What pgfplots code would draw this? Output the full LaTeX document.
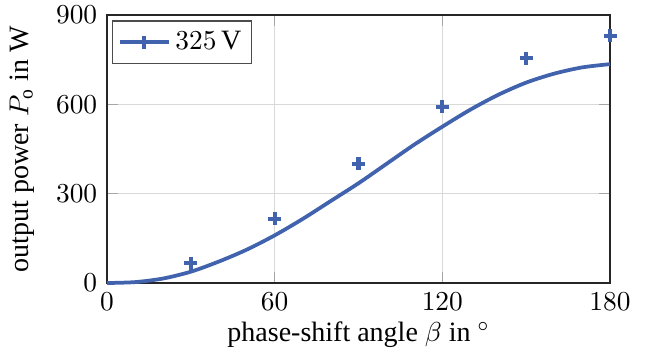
\documentclass[border=0pt]{standalone}
\usepackage{pgfplots}
\pgfplotsset{compat=1.18}
\usepackage{fontspec}
\setmainfont{Liberation Serif}
\definecolor{lineblue}{RGB}{65,98,172}
\begin{document}
\fontsize{11.2}{13.5}\selectfont
\begin{tikzpicture}
\begin{axis}[
  scale only axis,
  width=201.2pt, height=107.2pt,
  xmin=0, xmax=180, ymin=0, ymax=900,
  xtick={0,60,120,180}, ytick={0,300,600,900},
  grid=major,
  major grid style={gray!30, line width=0.6pt},
  tick style={gray!70, line width=0.6pt},
  axis line style={black!85, line width=0.6pt},
  tick label style={font=\fontsize{11.2}{13.5}\selectfont},
  label style={font=\fontsize{11.2}{13.5}\selectfont},
  xlabel={phase-shift angle $\beta$ in $^\circ$},
  ylabel={output power $P_\mathrm{o}$ in W},
  xlabel style={yshift=3pt},
  ylabel style={yshift=1pt},
  legend style={draw=black!70, line width=0.5pt, font=\fontsize{11.2}{13.5}\selectfont, inner sep=2pt, at={(0.01,0.98)}, anchor=north west},
  legend cell align=left,
  legend image post style={xscale=1.15},
  clip=false,
]
\addplot[lineblue, line width=1.5pt, smooth, forget plot] coordinates {
(0,0) (10,3) (20,15) (30,38) (40,72) (50,112) (60,160) (70,215) (80,275) (90,335)
(100,400) (110,465) (120,525) (130,582) (140,632) (150,673) (160,703) (170,724) (180,735)};
\addplot[lineblue, only marks, mark=+, mark size=2.6pt, mark options={line width=1.7pt}, forget plot] coordinates {
(30,67) (60,215) (90,400) (120,592) (150,755) (180,830)};
\addlegendimage{lineblue, line width=1.5pt, mark=+, mark size=2.6pt, mark options={line width=1.4pt}}
\addlegendentry{$325\,\mathrm{V}$}
\coordinate (bbl) at (rel axis cs:-0.2127,-0.2724);
\coordinate (btr) at (rel axis cs:1.0795,1.056);
\end{axis}
\pgfresetboundingbox
\path[use as bounding box] (bbl) rectangle (btr);
\end{tikzpicture}
\end{document}
